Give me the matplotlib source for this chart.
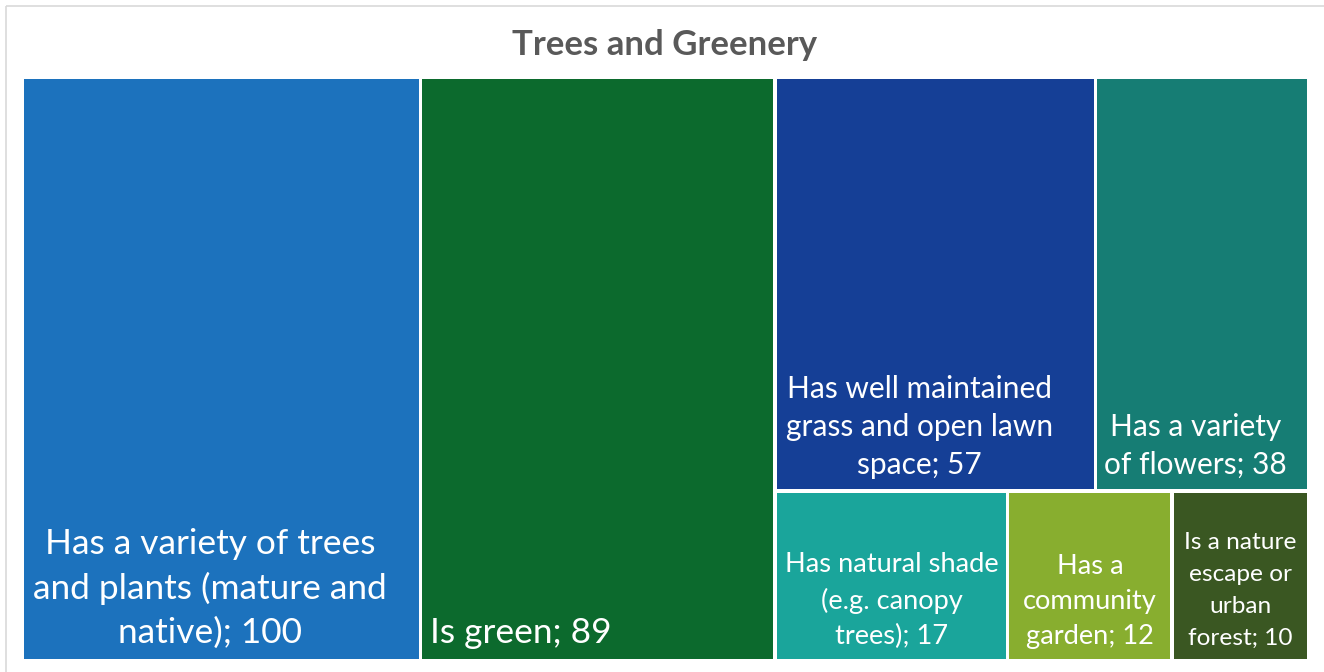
import matplotlib
matplotlib.use("Agg")
import matplotlib.pyplot as plt
from matplotlib.patches import Rectangle

# data
labels = [
    "Has a variety of trees\nand plants (mature and\nnative); 100",
    "Is green; 89",
    "Has well maintained\ngrass and open lawn\nspace; 57",
    "Has a variety\nof flowers; 38",
    "Has natural shade\n(e.g. canopy\ntrees); 17",
    "Has a\ncommunity\ngarden; 12",
    "Is a nature\nescape or\nurban\nforest; 10",
]
values = [100, 89, 57, 38, 17, 12, 10]
colors = ["#1C72BD", "#0C6A2D", "#153F96", "#167D74", "#1AA59B", "#88AE2F", "#3A5722"]

# text styling per tile
font_sizes = [25.4, 25.4, 21.5, 21.5, 19.6, 19.6, 17.6]
line_spacing = [1.44, 1.44, 1.44, 1.44, 1.5, 1.5, 1.65]
h_align = ["center", "left", "center", "center", "center", "center", "center"]
x_shift = [-11, 10, -16, -7, 0, 0, 0]

plt.rcParams["font.family"] = ["Lato", "DejaVu Sans"]

W, H = 1324, 672
fig = plt.figure(figsize=(W / 100, H / 100), dpi=100)
ax = fig.add_axes([0, 0, 1, 1])
ax.set_xlim(0, W)
ax.set_ylim(H, 0)
ax.axis("off")

# chart frame
ax.add_patch(Rectangle((6, 6), W, H, fill=False, edgecolor="#D9D9D9", linewidth=1.2))

# plot area
left, top, right, bottom = 22, 77, 1309, 661
pw, ph = right - left, bottom - top
total = sum(values)

# layout: two big columns, then the rest split into two rows
rects = []
x = left
for v in values[:2]:
    w = pw * v / total
    rects.append((x, top, w, ph))
    x += w
rest_w = right - x
rest = sum(values[2:])
rows = [values[2:4], values[4:]]
y = top
for row in rows:
    rh = ph * sum(row) / rest
    xx = x
    for v in row:
        w = rest_w * v / sum(row)
        rects.append((xx, y, w, rh))
        xx += w
    y += rh

gap = 1.6
for i, (rx, ry, rw, rh) in enumerate(rects):
    ax.add_patch(Rectangle((rx + gap, ry + gap), rw - 2 * gap, rh - 2 * gap,
                           facecolor=colors[i], edgecolor="none"))
    if h_align[i] == "left":
        tx = rx + x_shift[i]
    else:
        tx = rx + rw / 2 + x_shift[i]
    ax.text(tx, ry + rh - 12, labels[i], color="white", fontsize=font_sizes[i],
            ha=h_align[i], va="bottom", multialignment="center",
            linespacing=line_spacing[i])

ax.text(665, 45, "Trees and Greenery", color="#595959", fontsize=25,
        fontweight="bold", ha="center", va="center")

fig.savefig("out.png", dpi=100)
